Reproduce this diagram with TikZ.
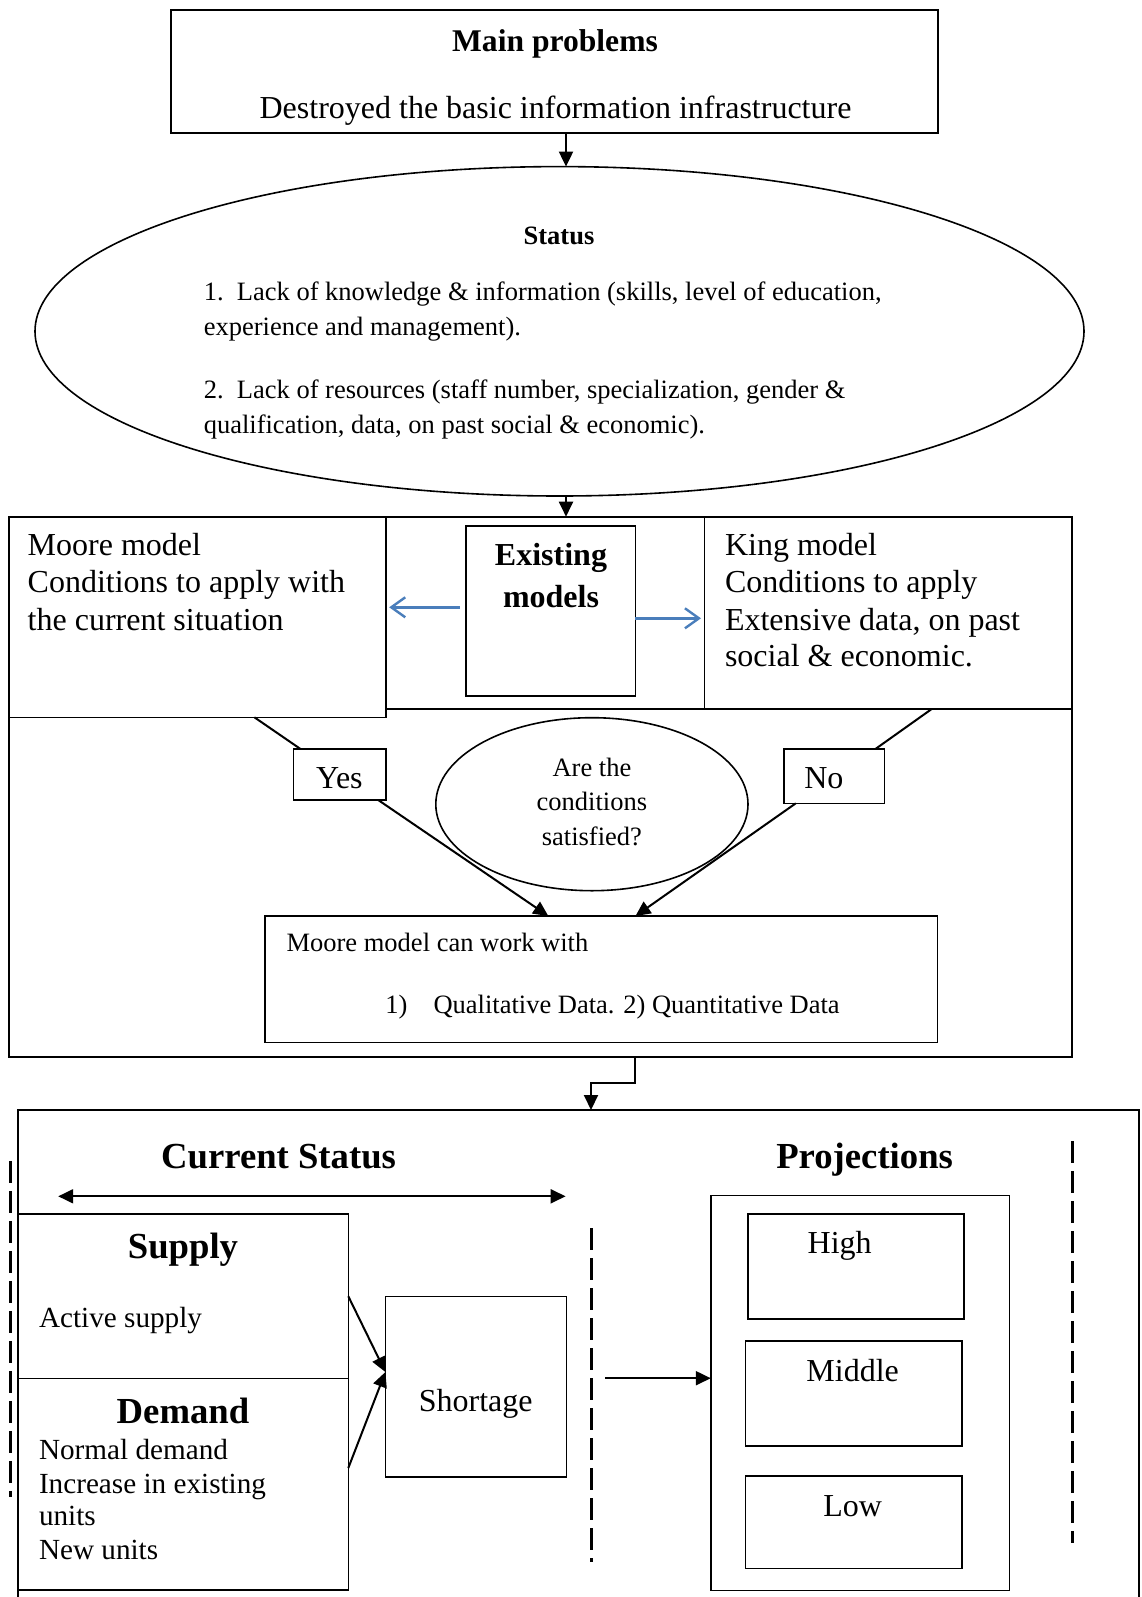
\documentclass[tikz,border=0pt]{standalone}
\usepackage{fontspec}
\setmainfont{Liberation Serif}
\usetikzlibrary{shapes.geometric,arrows.meta,calc}
\definecolor{arrblue}{RGB}{74,126,187}
\begin{document}
\begin{tikzpicture}[x=1pt,y=-1pt,
  bx/.style={draw,line width=1.6pt,inner sep=0pt,outer sep=0pt},
  ell/.style={draw,ellipse,line width=1.6pt,inner sep=0pt,outer sep=0pt},
  tx/.style={inner sep=0pt,outer sep=0pt,anchor=base west},
  tc/.style={inner sep=0pt,outer sep=0pt,anchor=base},
  fm/.style={font=\fontsize{32pt}{38pt}\selectfont},
  fs/.style={font=\fontsize{26.5pt}{32pt}\selectfont},
  fd/.style={font=\fontsize{29.2pt}{34pt}\selectfont},
  fh/.style={font=\fontsize{36.7pt}{44pt}\selectfont\bfseries},
  arr/.style={line width=2pt,-{Triangle[length=15pt,width=14pt]}},
  darr/.style={line width=2pt,{Triangle[length=15pt,width=14pt]}-{Triangle[length=15pt,width=14pt]}},
  bluearr/.style={line width=2.4pt,draw=arrblue,-{Straight Barb[length=14pt,width=20pt]}},
  ln/.style={line width=2pt},
  dsh/.style={line width=2.6pt,dash pattern=on 22pt off 8pt}
]
\useasboundingbox (0,0) rectangle (1141,1597);
\fill[white] (0,0) rectangle (1141,1597);

% ---------- top box ----------
\node[bx,minimum width=767pt,minimum height=123pt] (top) at (554.5,71.5) {};
\node[tc,font=\fontsize{31.6pt}{38pt}\selectfont\bfseries] (mp) at (555,52) {Main problems};
\node[tc,fm] (dest) at (555.5,118.5) {Destroyed the basic information infrastructure};

% ---------- status ellipse ----------
\node[ell,minimum width=1049pt,minimum height=329.4pt] (statusell) at (559.5,331.3) {};
\node[tc,font=\fontsize{26.5pt}{32pt}\selectfont\bfseries] (st) at (559,245) {Status};
\node[tx,fs] (s1) at (203.8,300) {1.\hspace{0.5em}Lack of knowledge \& information (skills, level of education,};
\node[tx,fs] (s2) at (203.8,335) {experience and management).};
\node[tx,fs] (s3) at (203.8,398.3) {2.\hspace{0.5em}Lack of resources (staff number, specialization, gender \&};
\node[tx,fs] (s4) at (203.8,433.3) {qualification, data, on past social \& economic).};

\coordinate (midx) at (566,0);
\draw[arr] (top.south -| midx) -- (statusell.north -| midx);

% ---------- models row ----------
\node[bx,minimum width=1063.3pt,minimum height=347.7pt] (lowerbox) at (540.35,882.85) {};
\node[bx,minimum width=318.8pt,minimum height=192.3pt] (midbox) at (545.1,612.85) {};
\node[bx,minimum width=367.5pt,minimum height=192.3pt] (king) at (888.25,612.85) {};
\node[bx,fill=white,minimum width=377pt,minimum height=200.6pt] (moore) at (197.2,617) {};
\node[bx,minimum width=169.6pt,minimum height=170pt] (exist) at (550.6,611) {};

\draw[arr] (statusell.south -| midx) -- (midbox.north -| midx);

\node[tx,fm] (m1) at (27.7,555) {Moore model};
\node[tx,fm] (m2) at (27.7,592.7) {Conditions to apply with};
\node[tx,fm] (m3) at (27.7,630) {the current situation};

\node[tc,font=\fontsize{32pt}{38pt}\selectfont\bfseries] (e1) at (551,565) {Existing};
\node[tc,font=\fontsize{32pt}{38pt}\selectfont\bfseries] (e2) at (551,607.3) {models};

\node[tx,fm] (k1) at (725,555) {King model};
\node[tx,fm] (k2) at (725,592.7) {Conditions to apply};
\node[tx,fm] (k3) at (725,630) {Extensive data, on past};
\node[tx,fm] (k4) at (725,666.7) {social \& economic.};

\draw[bluearr,shorten <=6pt,shorten >=3.5pt] (exist.west |- 0,607.3) -- (moore.east |- 0,607.3);
\draw[bluearr,shorten >=3.5pt] (exist.east |- 0,618.3) -- (king.west |- 0,618.3);

% ---------- decision ----------
\node[bx,minimum width=92.7pt,minimum height=51pt] (yes) at (339.85,774.5) {};
\node[tc,fm] (yest) at (339.4,788.3) {Yes};
\node[bx,minimum width=100.6pt,minimum height=54.3pt] (no) at (834.1,776.15) {};
\node[tc,fm] (not) at (823.8,788.3) {No};
\node[ell,minimum width=312.2pt,minimum height=173pt] (q) at (591.9,804.2) {};
\node[tc,fs] (q1) at (591.9,776.7) {Are the};
\node[tc,fs] (q2) at (591.9,810.7) {conditions};
\node[tc,fs] (q3) at (591.9,845.7) {satisfied?};

\node[bx,minimum width=672.6pt,minimum height=126.3pt] (canwork) at (601.3,979.15) {};
\node[tx,fs] (c1) at (286.6,951.7) {Moore model can work with};
\node[tx,fs] (c2) at (385.3,1013.3) {1)};
\node[tx,fs] (c3) at (433.5,1013.3) {Qualitative Data. 2) Quantitative Data};

\draw[ln] (moore.south -| 254.4,0) -- ([xshift=7pt]yes.north west);
\draw[arr] ([xshift=-8pt]yes.south east) -- (canwork.north -| 548.3,0);
\draw[ln] (king.south -| 931.7,0) -- ([xshift=-9pt]no.north east);
\draw[arr] ([xshift=12pt]no.south west) -- (canwork.north -| 635.5,0);

% ---------- bottom part ----------
\draw[ln] (18,1597) -- (18,1110) -- (1139,1110) -- (1139,1597);
\coordinate (bottomtop) at (591,1110);
\draw[arr] (lowerbox.south -| 635.4,0) -- ++(0,26.6) -| (bottomtop);

\node[tc,fh] (cs) at (278.6,1168.6) {Current Status};
\node[tc,fh] (pj) at (864.6,1168.6) {Projections};
\coordinate (dl) at (58.2,1196.3);
\coordinate (dr) at (565.6,1196.3);
\draw[darr] (dl) -- (dr);

\draw[dsh] (10.3,1160.8) -- (10.3,1496.5);
\draw[dsh] (591.3,1228) -- (591.3,1562);
\draw[dsh] (1072.4,1141) -- (1072.4,1542.7);

\node[bx,minimum width=330.3pt,minimum height=164.5pt] (supply) at (183.15,1296.25) {};
\node[bx,minimum width=330.3pt,minimum height=211.5pt] (demand) at (183.15,1484.25) {};
\node[tc,fh] (supt) at (183,1258.5) {Supply};
\node[tx,fd] (as) at (39,1327) {Active supply};
\node[tc,fh] (demt) at (183,1423) {Demand};
\node[tx,fd] (d1) at (39,1459.2) {Normal demand};
\node[tx,fd] (d2) at (39,1493) {Increase in existing};
\node[tx,fd] (d3) at (39,1525) {units};
\node[tx,fd] (d4) at (39,1559.4) {New units};

\node[bx,minimum width=181pt,minimum height=180.5pt] (short) at (475.9,1386.75) {};
\node[tc,fm] (sht) at (475.7,1411) {Shortage};

\draw[arr] (supply.east) -- (short.west |- 0,1372);
\draw[arr] (demand.east |- 0,1468) -- (short.west |- 0,1372);

\node[bx,minimum width=298.6pt,minimum height=395pt] (projo) at (860.1,1393.1) {};
\node[bx,minimum width=216.1pt,minimum height=104.9pt] (high) at (855.85,1266.45) {};
\node[bx,minimum width=216.7pt,minimum height=105pt] (middle) at (853.65,1393.5) {};
\node[bx,minimum width=216.7pt,minimum height=92.1pt] (low) at (853.65,1522.25) {};
\node[tc,fm] (ht) at (839.7,1253) {High};
\node[tc,fm] (mt) at (852.7,1381) {Middle};
\node[tc,fm] (lt) at (852.7,1516) {Low};

\coordinate (pa) at (605.2,1378.2);
\draw[arr] (pa) -- (projo.west |- pa);
\end{tikzpicture}
\end{document}
